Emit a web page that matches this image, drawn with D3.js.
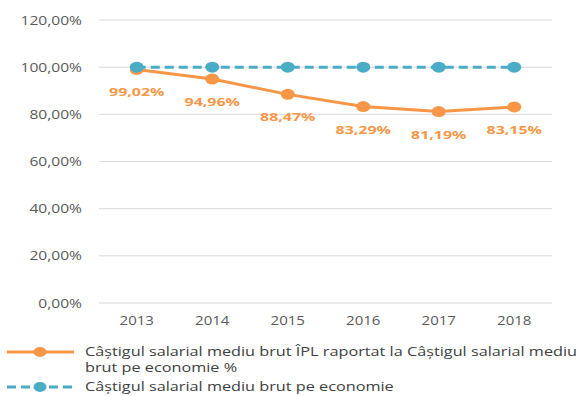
<!DOCTYPE html>
<html>
<head>
<meta charset="utf-8">
<script src="https://cdn.jsdelivr.net/npm/d3@7"></script>
<style>
  html, body { margin: 0; padding: 0; background: #fff; }
  svg { display: block; }
  text { font-family: "Open Sans", "Noto Sans", sans-serif; }
</style>
</head>
<body>
<svg id="chart" width="578" height="396"></svg>
<script>
// Years on the category axis
const years = ["2013", "2014", "2015", "2016", "2017", "2018"];
// Average gross wage in ÎPL relative to the economy-wide average (%)
const ratioIPL = [99.02, 94.96, 88.47, 83.29, 81.19, 83.15];
// Economy-wide average gross wage (reference level, %)
const economyLevel = [100, 100, 100, 100, 100, 100];
// Value-axis ticks (%)
const yTicks = [0, 20, 40, 60, 80, 100, 120];

const seriesNames = [
  ["Câștigul salarial mediu brut ÎPL raportat la Câștigul salarial mediu", "brut pe economie %"],
  ["Câștigul salarial mediu brut pe economie"]
];

const ORANGE = "#F79646";
const BLUE = "#4BACC6";
const GRID = "#D9D9D9";
const AXIS_TEXT = "#595959";
const SX = 1.3; // horizontal stretch of the lettering

const svg = d3.select("#chart");
const margin = { left: 99, right: 26, top: 20, bottom: 93 };
const W = 578, H = 396;

const x = d3.scaleBand().domain(years).range([margin.left, W - margin.right]);
const y = d3.scaleLinear().domain([0, 120]).range([H - margin.bottom, margin.top]);

const fmtPct = v => d3.format(".2f")(v).replace(".", ",") + "%";

// stretched text helper
function stext(g, tx, ty, str, anchor, size, color, weight, sx) {
  return g.append("text")
    .attr("transform", `translate(${tx},${ty}) scale(${sx || SX},1)`)
    .attr("text-anchor", anchor)
    .attr("font-size", size)
    .attr("font-weight", weight || "normal")
    .attr("fill", color)
    .text(str);
}

// gridlines
const grid = svg.append("g");
yTicks.forEach(t => {
  grid.append("line")
    .attr("x1", margin.left).attr("x2", W - margin.right)
    .attr("y1", y(t)).attr("y2", y(t))
    .attr("stroke", GRID).attr("stroke-width", 1);
});

// value axis labels
const yAxisG = svg.append("g");
yTicks.forEach(t => {
  stext(yAxisG, 82, y(t) + 4.5, fmtPct(t), "end", 12, AXIS_TEXT);
});

// category axis labels
const xAxisG = svg.append("g");
years.forEach(yr => {
  stext(xAxisG, x(yr) + x.bandwidth() / 2, 325, yr, "middle", 12, AXIS_TEXT, "normal", 1.25);
});

const cx = d => x(d.year) + x.bandwidth() / 2;
const line = d3.line().x(cx).y(d => y(d.v));

const orangeData = years.map((yr, i) => ({ year: yr, v: ratioIPL[i] }));
const blueData = years.map((yr, i) => ({ year: yr, v: economyLevel[i] }));

// ÎPL ratio series
svg.append("path").datum(orangeData)
  .attr("d", line).attr("fill", "none")
  .attr("stroke", ORANGE).attr("stroke-width", 3).attr("stroke-linejoin", "round");
svg.selectAll(".pO").data(orangeData).join("ellipse")
  .attr("cx", cx).attr("cy", d => y(d.v))
  .attr("rx", 7).attr("ry", 5.5).attr("fill", ORANGE);

// economy-wide series
svg.append("path").datum(blueData)
  .attr("d", line).attr("fill", "none")
  .attr("stroke", BLUE).attr("stroke-width", 3).attr("stroke-dasharray", "9,5");
svg.selectAll(".pB").data(blueData).join("ellipse")
  .attr("cx", cx).attr("cy", d => y(d.v))
  .attr("rx", 7).attr("ry", 5.5).attr("fill", BLUE);

// value labels under the ÎPL points
const lbl = svg.append("g");
orangeData.forEach(d => {
  stext(lbl, cx(d), y(d.v) + 27, fmtPct(d.v), "middle", 11, ORANGE, "bold", 1.45);
});

// legend
const leg = svg.append("g");
const legendTextColor = "#404040";
// entry 1
leg.append("line").attr("x1", 7).attr("x2", 74).attr("y1", 352).attr("y2", 352)
  .attr("stroke", ORANGE).attr("stroke-width", 3);
leg.append("ellipse").attr("cx", 40).attr("cy", 352).attr("rx", 6.5).attr("ry", 5).attr("fill", ORANGE);
seriesNames[0].forEach((s, i) => {
  stext(leg, 85, 356 + i * 16, s, "start", 12.5, legendTextColor, "normal", 1.3);
});
// entry 2
leg.append("line").attr("x1", 7).attr("x2", 74).attr("y1", 387).attr("y2", 387)
  .attr("stroke", BLUE).attr("stroke-width", 3).attr("stroke-dasharray", "9,5");
leg.append("ellipse").attr("cx", 40).attr("cy", 387).attr("rx", 6.5).attr("ry", 5).attr("fill", BLUE);
seriesNames[1].forEach((s, i) => {
  stext(leg, 85, 391 + i * 16, s, "start", 12.5, legendTextColor, "normal", 1.3);
});
</script>
</body>
</html>
